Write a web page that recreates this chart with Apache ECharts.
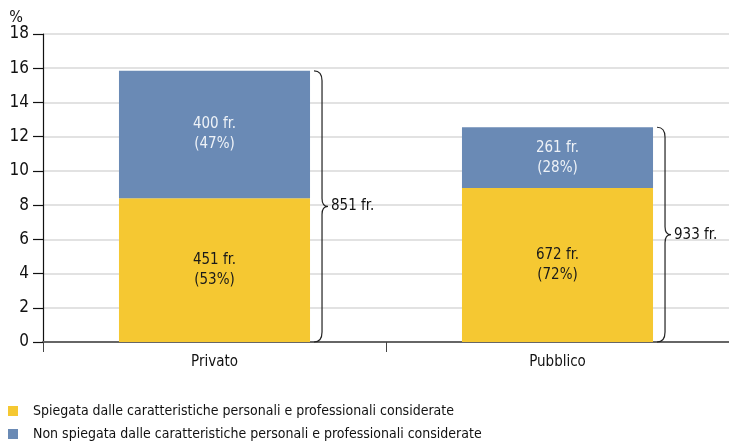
<!DOCTYPE html>
<html>
<head>
<meta charset="utf-8">
<script src="https://cdn.jsdelivr.net/npm/echarts@6/dist/echarts.min.js"></script>
<style>
  html, body { margin: 0; padding: 0; background: #fff; }
  #chart { width: 729px; height: 443px; }
</style>
</head>
<body>
<div id="chart"></div>
<script>
// dati (% del salario)
var categories = ['Privato', 'Pubblico'];
var explained = [8.4, 9.0];        // spiegata
var unexplained = [7.45, 3.55];    // non spiegata
var explainedLabels = ['451 fr.\n(53%)', '672 fr.\n(72%)'];
var unexplainedLabels = ['400 fr.\n(47%)', '261 fr.\n(28%)'];
var totalLabels = ['851 fr.', '933 fr.'];
var seriesNames = [
    'Spiegata dalle caratteristiche personali e professionali considerate',
    'Non spiegata dalle caratteristiche personali e professionali considerate'
];

var FONT = "'Liberation Sans Narrow', 'DejaVu Sans Condensed', sans-serif";
var BAR_RATIO = 0.557;

var braceData = [];
for (var i = 0; i < categories.length; i++) {
    braceData.push([i, explained[i] + unexplained[i], totalLabels[i]]);
}

function renderBrace(params, api) {
    var top = api.coord([api.value(0), api.value(1)]);
    var bottom = api.coord([api.value(0), 0]);
    var band = api.size([1, 0])[0];
    var x0 = top[0] + band * BAR_RATIO / 2 + 4;
    var t = top[1], b = bottom[1], m = (t + b) / 2;
    var xv = x0 + 8, xt = x0 + 14;
    var d = 'M' + x0 + ',' + t +
        ' Q' + xv + ',' + t + ' ' + xv + ',' + (t + 10) +
        ' L' + xv + ',' + (m - 8) +
        ' Q' + xv + ',' + m + ' ' + xt + ',' + m +
        ' Q' + xv + ',' + m + ' ' + xv + ',' + (m + 8) +
        ' L' + xv + ',' + (b - 10) +
        ' Q' + xv + ',' + b + ' ' + x0 + ',' + b;
    return {
        type: 'group',
        children: [{
            type: 'path',
            shape: { pathData: d },
            style: { stroke: '#222', fill: null, lineWidth: 1.2 }
        }, {
            type: 'text',
            x: xt + 3,
            y: m,
            style: {
                text: api.value(2),
                fill: '#111',
                fontSize: 15,
                fontFamily: FONT,
                verticalAlign: 'middle',
                align: 'left'
            }
        }]
    };
}

var myChart = echarts.init(document.getElementById('chart'));

var option = {
    animation: false,
    color: ['#f5c832', '#6a8ab5'],
    grid: { left: 43, right: 0, top: 34, bottom: 101 },
    legend: {
        data: seriesNames,
        orient: 'vertical',
        left: 8,
        bottom: 1,
        padding: 0,
        icon: 'rect',
        itemWidth: 10,
        itemHeight: 10,
        itemGap: 7,
        textStyle: { fontSize: 14, lineHeight: 16, fontFamily: FONT, color: '#111', padding: [0, 0, 0, 10] }
    },
    xAxis: {
        type: 'category',
        data: categories,
        axisLine: { lineStyle: { color: '#666', width: 2 } },
        axisTick: { show: true, interval: 0, length: 10, lineStyle: { color: '#444', width: 1 } },
        axisLabel: { fontSize: 15, fontFamily: FONT, color: '#111', margin: 13 }
    },
    yAxis: {
        type: 'value',
        min: 0, max: 18, interval: 2,
        name: '%',
        nameLocation: 'end',
        nameGap: 8,
        nameTextStyle: { fontSize: 16, fontFamily: FONT, color: '#111', align: 'right', padding: [0, 20, 0, 0] },
        axisLine: { show: true, lineStyle: { color: '#111', width: 1.2 } },
        axisTick: { show: true, length: 10, lineStyle: { color: '#111', width: 1.2 } },
        axisLabel: { fontSize: 17, fontFamily: FONT, color: '#111', margin: 14 },
        splitLine: { show: true, lineStyle: { color: '#d9d9d9', width: 1.5 } }
    },
    series: [{
        name: seriesNames[0],
        type: 'bar',
        stack: 'tot',
        barWidth: (BAR_RATIO * 100) + '%',
        data: explained,
        label: {
            show: true, position: 'inside',
            fontSize: 15, fontFamily: FONT, color: '#1a1a1a', lineHeight: 20,
            formatter: function (p) { return explainedLabels[p.dataIndex]; }
        }
    }, {
        name: seriesNames[1],
        type: 'bar',
        stack: 'tot',
        barWidth: (BAR_RATIO * 100) + '%',
        data: unexplained,
        label: {
            show: true, position: 'inside',
            fontSize: 15, fontFamily: FONT, color: '#eef2f7', lineHeight: 20,
            formatter: function (p) { return unexplainedLabels[p.dataIndex]; }
        }
    }, {
        name: 'totale',
        type: 'custom',
        renderItem: renderBrace,
        clip: false,
        silent: true,
        encode: { x: 0, y: 1 },
        data: braceData,
        z: 5
    }]
};

myChart.setOption(option);
</script>
</body>
</html>
